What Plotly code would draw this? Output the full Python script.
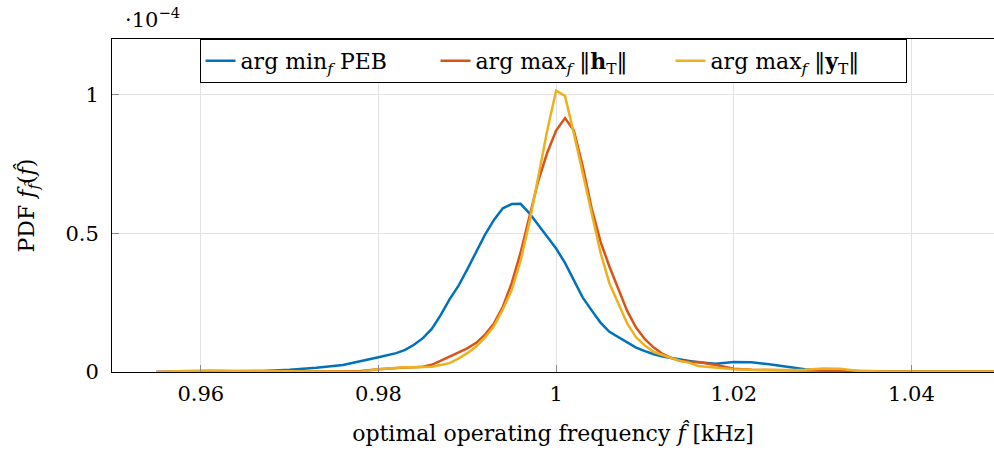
import plotly.graph_objects as go

freq = [0.955, 0.958, 0.961, 0.964, 0.967, 0.970, 0.973, 0.976, 0.978, 0.980,
        0.982, 0.983, 0.984, 0.985, 0.986, 0.987, 0.988, 0.989, 0.990, 0.991,
        0.992, 0.993, 0.994, 0.995, 0.996, 0.997, 0.998, 0.999, 1.000, 1.001,
        1.002, 1.003, 1.004, 1.005, 1.006, 1.007, 1.008, 1.009, 1.010, 1.011,
        1.012, 1.013, 1.014, 1.015, 1.016, 1.018, 1.020, 1.022, 1.024, 1.026,
        1.028, 1.030, 1.032, 1.034, 1.037, 1.040, 1.043, 1.046, 1.050]

peb = [0.000, 0.002, 0.003, 0.003, 0.004, 0.008, 0.015, 0.025, 0.038, 0.053,
       0.068, 0.080, 0.098, 0.122, 0.155, 0.205, 0.262, 0.310, 0.370, 0.430,
       0.495, 0.548, 0.590, 0.605, 0.606, 0.572, 0.530, 0.485, 0.445, 0.393,
       0.330, 0.268, 0.222, 0.178, 0.145, 0.125, 0.105, 0.088, 0.075, 0.064,
       0.056, 0.050, 0.045, 0.040, 0.035, 0.030, 0.036, 0.035, 0.028, 0.019,
       0.010, 0.007, 0.005, 0.004, 0.003, 0.003, 0.004, 0.003, 0.002]

h_norm = [0.000, 0.003, 0.004, 0.003, 0.002, 0.002, 0.003, 0.004, 0.004, 0.010,
          0.015, 0.016, 0.017, 0.019, 0.026, 0.040, 0.056, 0.070, 0.085, 0.105,
          0.135, 0.175, 0.235, 0.320, 0.430, 0.560, 0.690, 0.790, 0.870, 0.915,
          0.870, 0.740, 0.590, 0.470, 0.380, 0.300, 0.220, 0.160, 0.118, 0.088,
          0.065, 0.050, 0.040, 0.037, 0.036, 0.025, 0.012, 0.008, 0.007, 0.006,
          0.005, 0.005, 0.004, 0.002, 0.002, 0.002, 0.002, 0.002, 0.002]

y_norm = [0.000, 0.004, 0.005, 0.004, 0.003, 0.003, 0.002, 0.001, 0.001, 0.010,
          0.016, 0.017, 0.017, 0.017, 0.019, 0.025, 0.032, 0.048, 0.068, 0.092,
          0.125, 0.165, 0.225, 0.295, 0.400, 0.540, 0.700, 0.870, 1.014, 0.995,
          0.860, 0.720, 0.570, 0.430, 0.320, 0.250, 0.175, 0.125, 0.095, 0.072,
          0.060, 0.050, 0.040, 0.033, 0.022, 0.016, 0.010, 0.008, 0.007, 0.007,
          0.008, 0.013, 0.012, 0.004, 0.002, 0.002, 0.002, 0.002, 0.002]

names = ["arg min<sub><i>f</i></sub> PEB",
         "arg max<sub><i>f</i></sub> ‖<b>h</b><sub>T</sub>‖",
         "arg max<sub><i>f</i></sub> ‖<b>y</b><sub>T</sub>‖"]
colors = ["#0072BD", "#D95319", "#EDB120"]

x_ticks = [0.96, 0.98, 1.0, 1.02, 1.04]
x_tick_text = ["0.96", "0.98", "1", "1.02", "1.04"]
y_ticks = [0, 0.5, 1]
y_tick_text = ["0", "0.5", "1"]

FONT = "DejaVu Serif"
FS_TICK = 21
FS_TITLE = 22
FS_LEG = 22

fig = go.Figure()
for ys, nm, c in zip([peb, h_norm, y_norm], names, colors):
    fig.add_trace(go.Scatter(x=freq, y=ys, mode="lines", name=nm,
                             line=dict(color=c, width=2.5)))

fig.update_layout(
    width=994, height=457,
    margin=dict(l=112, r=0, t=39, b=85),
    paper_bgcolor="white", plot_bgcolor="white",
    font=dict(family=FONT, size=FS_TICK, color="black"),
    legend=dict(orientation="h", x=0.5, xanchor="center", y=1, yanchor="top",
                bordercolor="black", borderwidth=1, bgcolor="white",
                entrywidth=190, entrywidthmode="pixels",
                font=dict(family=FONT, size=FS_LEG)),
    xaxis=dict(range=[0.95, 1.0493], tickvals=x_ticks, ticktext=x_tick_text,
               tickfont=dict(family=FONT, size=FS_TICK, color="black"),
               showgrid=True, gridcolor="#e3e3e3", zeroline=False,
               showline=True, linecolor="black", linewidth=1, mirror=True,
               ticks="inside", ticklen=7, tickcolor="#888888",
               ticklabelstandoff=3,
               title=dict(text="optimal operating frequency <i>f̂</i> [kHz]", standoff=20,
                          font=dict(family=FONT, size=FS_TITLE))),
    yaxis=dict(range=[0, 1.2], tickvals=y_ticks, ticktext=y_tick_text,
               tickfont=dict(family=FONT, size=FS_TICK, color="black"),
               showgrid=True, gridcolor="#e3e3e3", zeroline=False,
               showline=True, linecolor="black", linewidth=1, mirror=True,
               ticks="inside", ticklen=7, tickcolor="#888888",
               ticklabelstandoff=8,
               title=dict(text="PDF <i>f</i><sub><i>f̂</i></sub>(<i>f̂</i>)", standoff=24,
                          font=dict(family=FONT, size=FS_TITLE))),
    annotations=[dict(text="·10<sup>−4</sup>", xref="paper", yref="paper",
                      x=0.012, y=1.0, yshift=21, xanchor="left", yanchor="middle",
                      showarrow=False, font=dict(family=FONT, size=FS_TICK))],
)

fig.write_html("out.html")
